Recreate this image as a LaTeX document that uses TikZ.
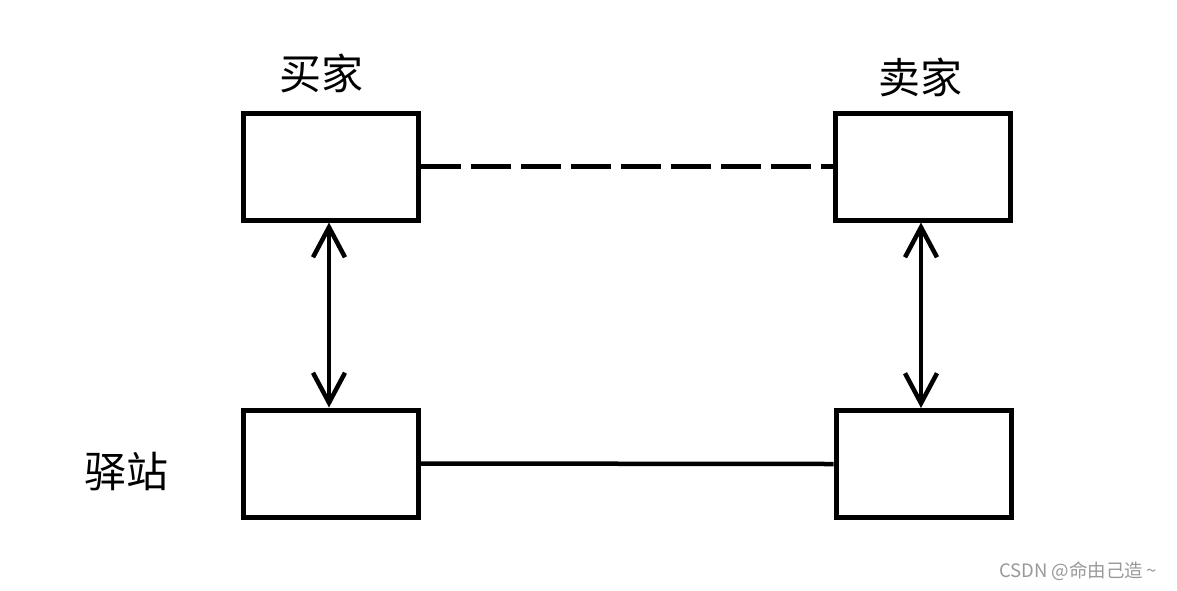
\documentclass[tikz,border=0pt]{standalone}
\usepackage{fontspec}
\newfontfamily\cjk{Noto Sans CJK SC}
\usetikzlibrary{arrows.meta}
\begin{document}
\begin{tikzpicture}[x=1pt,y=-1pt,
  box/.style={draw,line width=5pt,minimum width=175pt,minimum height=107pt,inner sep=0pt},
  lab/.style={font=\cjk\fontsize{42}{44}\selectfont,inner sep=0pt},
  conn/.style={line width=4.5pt},
  barb/.tip={Straight Barb[length=30pt,width=32pt,line width=4.5pt]},
  twoway/.style={line width=4pt,{barb}-{barb}}]
\useasboundingbox (0,0) rectangle (1177,590);
\node[box] (b) at (330.5,166.5) {};
\node[box] (s) at (923,166.5) {};
\node[box] (bs) at (331,463.5) {};
\node[box] (ss) at (923.5,464) {};
\node[lab] (lb) at (321,73) {买家};
\node[lab] (ls) at (920,77) {卖家};
\node[lab] (lst) at (126,472) {驿站};
\node[font=\cjk\fontsize{18.5}{20}\selectfont,text=black!40,inner sep=0pt] (wm) at (1078,571) {CSDN @命由己造\,\textasciitilde};
\draw[conn,dash pattern=on 40pt off 10pt] (b.east) -- (s.west);
\draw[conn] (bs.east) -- (ss.west);
\draw[twoway] ([xshift=-1.5pt]b.south) -- ([xshift=-2pt]bs.north);
\draw[twoway] ([xshift=-2pt]s.south) -- ([xshift=-2.5pt]ss.north);
\end{tikzpicture}
\end{document}
